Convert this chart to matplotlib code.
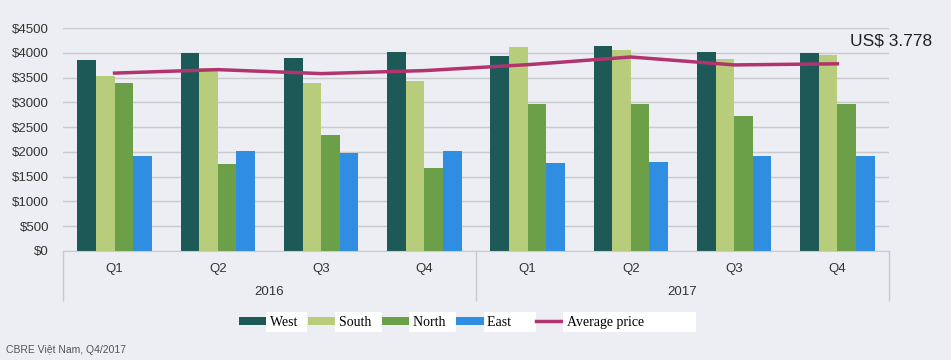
import matplotlib
matplotlib.use('Agg')
import matplotlib.pyplot as plt
import numpy as np
from matplotlib.lines import Line2D
from matplotlib.patches import Patch
from matplotlib.transforms import blended_transform_factory

# Dữ liệu giá theo khu vực (USD/m2)
quarters = ['Q1', 'Q2', 'Q3', 'Q4', 'Q1', 'Q2', 'Q3', 'Q4']
years = ['2016', '2017']
west = [3860, 3995, 3890, 4025, 3930, 4135, 4025, 4005]
south = [3540, 3695, 3400, 3425, 4115, 4055, 3875, 3955]
north = [3390, 1750, 2340, 1675, 2965, 2960, 2730, 2975]
east = [1910, 2010, 1970, 2010, 1785, 1795, 1915, 1910]
avg_price = [3590, 3660, 3580, 3640, 3760, 3915, 3755, 3778]

series = [('West', west, '#1d5a57'), ('South', south, '#b7cd7c'),
          ('North', north, '#6b9f48'), ('East', east, '#2f8ee2')]
line_color = '#b2346f'
bg = '#eceef3'

plt.rcParams['font.family'] = ['Liberation Sans', 'DejaVu Sans']

fig = plt.figure(figsize=(9.51, 3.6), dpi=100, facecolor=bg)
ax = fig.add_axes([0.0662, 0.3028, 0.8686, 0.6194], facecolor=bg)

x = np.arange(len(quarters))
w = 0.18
for i, (name, vals, col) in enumerate(series):
    ax.bar(x + (i - 1.5) * w, vals, width=w, color=col, zorder=2)
ax.plot(x, avg_price, color=line_color, lw=2.5, zorder=3)

ax.set_xlim(-0.5, 7.5)
ax.set_ylim(0, 4500)
ax.set_yticks(np.arange(0, 4501, 500))
ax.set_yticklabels(['$%d' % v for v in np.arange(0, 4501, 500)], fontsize=9.5, color='#333333')
ax.yaxis.grid(True, color='#c9cacd', lw=1, zorder=0)
ax.tick_params(axis='y', length=0, pad=10)

ax.set_xticks(x)
ax.set_xticklabels(quarters, fontsize=9.5, color='#333333')
ax.tick_params(axis='x', which='major', length=0, pad=9)
ax.set_xticks([-0.5, 3.5, 7.5], minor=True)
ax.tick_params(axis='x', which='minor', length=36, color='#c9cacd', width=1)

for s in ['top', 'right', 'left']:
    ax.spines[s].set_visible(False)
ax.spines['bottom'].set_color('#c9cacd')

trans = blended_transform_factory(ax.transData, ax.transAxes)
ax.text(1.5, -0.185, years[0], transform=trans, ha='center', va='center', fontsize=9.5, color='#333333')
ax.text(5.5, -0.185, years[1], transform=trans, ha='center', va='center', fontsize=9.5, color='#333333')

fig.text(0.894, 0.887, 'US$ 3.778', fontsize=12.5, color='#222222', ha='left', va='center')
fig.text(0.006, 0.028, 'CBRE Việt Nam, Q4/2017', fontsize=7.5, color='#555555', ha='left', va='center')

handles = [Patch(facecolor=c, edgecolor='none') for _, _, c in series]
handles.append(Line2D([0], [0], color=line_color, lw=2.5))
labels = ['West  ', 'South  ', 'North  ', 'East      ', 'Average price              ']
leg = fig.legend(handles, labels, loc='center', bbox_to_anchor=(0.49, 0.105), ncol=5,
                 frameon=False, handlelength=2.1, handleheight=0.5, handletextpad=0.1,
                 columnspacing=0.3, prop={'family': 'Liberation Serif', 'size': 10})
for t in leg.get_texts():
    t.set_bbox(dict(facecolor='white', edgecolor='none', pad=2.5))

fig.savefig('out.png', dpi=100, facecolor=bg)
